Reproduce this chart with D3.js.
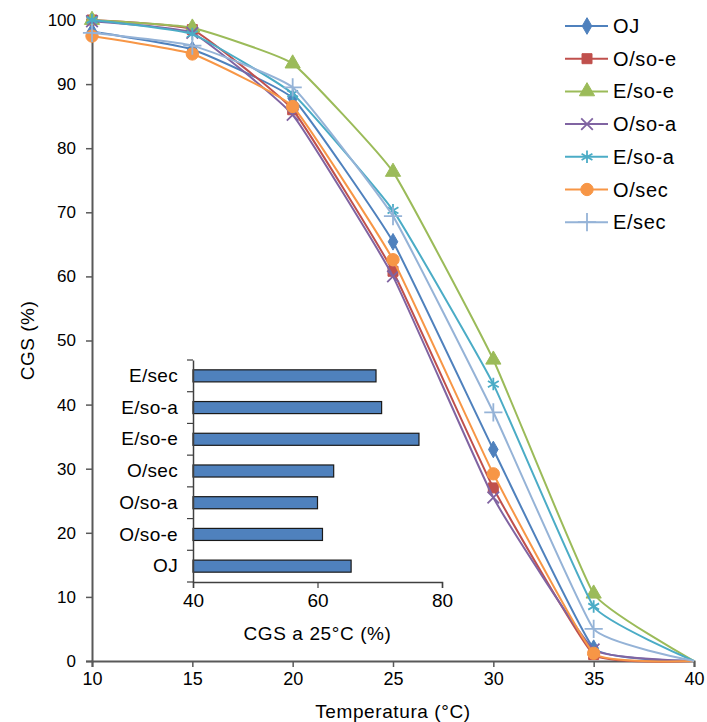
<!DOCTYPE html>
<html>
<head>
<meta charset="utf-8">
<script src="https://cdn.jsdelivr.net/npm/d3@7"></script>
<style>
body { margin: 0; background: #fff; }
text { font-family: "Liberation Sans", Arial, sans-serif; fill: #000; }
</style>
</head>
<body>
<svg width="707" height="722"></svg>
<script>
// data
const temps = [10, 15, 20, 25, 30, 35, 40];
const seriesNames = ['OJ', 'O/so-e', 'E/so-e', 'O/so-a', 'E/so-a', 'O/sec', 'E/sec'];
const ojValues   = [98.2, 95.4, 87.8, 65.4, 33.0, 2.0, 0];
const osoeValues = [100, 98.5, 86.0, 60.8, 27.0, 1.0, 0];
const esoeValues = [100, 98.8, 93.2, 76.3, 47.0, 10.5, 0];
const osoaValues = [99.8, 98.0, 85.2, 60.0, 25.5, 1.8, 0];
const esoaValues = [100, 97.8, 88.5, 70.3, 43.2, 8.5, 0];
const osecValues = [97.5, 94.7, 86.5, 62.6, 29.2, 1.2, 0];
const esecValues = [98.0, 96.0, 89.5, 69.4, 38.8, 5.0, 0];
const seriesColors = ['#4F81BD', '#C0504D', '#9BBB59', '#8064A2', '#4BACC6', '#F79646', '#95B3D7'];
const yTicks = [0, 10, 20, 30, 40, 50, 60, 70, 80, 90, 100];
const xTicks = [10, 15, 20, 25, 30, 35, 40];

// inset: CGS at 25 °C
const insetCategories = ['OJ', 'O/so-e', 'O/so-a', 'O/sec', 'E/so-e', 'E/so-a', 'E/sec'];
const insetTicks = [40, 60, 80];

const svg = d3.select('svg');
const allValues = [ojValues, osoeValues, esoeValues, osoaValues, esoaValues, osecValues, esecValues];
const series = seriesNames.map((name, i) => ({
	name: name,
	color: seriesColors[i],
	values: temps.map((t, j) => ({ t: t, v: allValues[i][j] }))
}));

const symbolTypes = [d3.symbolDiamond, d3.symbolSquare, d3.symbolTriangle, d3.symbolX, d3.symbolAsterisk, d3.symbolCircle, d3.symbolPlus];
const symbolSizes = [80, 100, 100, 90, 110, 120, 110];
const isStroke = [false, false, false, true, true, false, true];

const margin = { left: 92, right: 13, top: 20, bottom: 61 };
const xScale = d3.scaleLinear().domain([10, 40]).range([margin.left, 707 - margin.right]);
const yScale = d3.scaleLinear().domain([0, 100]).range([722 - margin.bottom, margin.top]);

// axes
const xAxisG = svg.append('g')
	.attr('transform', `translate(0, ${yScale(0)})`)
	.call(d3.axisBottom(xScale).tickValues(xTicks).tickSize(6).tickPadding(5));
const yAxisG = svg.append('g')
	.attr('transform', `translate(${xScale(10)}, 0)`)
	.call(d3.axisLeft(yScale).tickValues(yTicks).tickSize(6).tickPadding(10));

[xAxisG, yAxisG].forEach(g => {
	g.select('.domain').attr('stroke', '#595959').attr('stroke-width', 2);
	g.selectAll('.tick line').attr('stroke', '#595959').attr('stroke-width', 1.5);
	g.selectAll('.tick text').style('font-size', '17px').attr('fill', '#000');
});
xAxisG.selectAll('.tick text').style('font-size', '18px');

svg.append('text')
	.attr('x', (xScale(10) + xScale(40)) / 2)
	.attr('y', 718)
	.attr('text-anchor', 'middle')
	.style('font-size', '19px')
	.style('letter-spacing', '0.6px')
	.text('Temperatura (°C)');

svg.append('text')
	.attr('transform', `translate(34, ${yScale(50)}) rotate(-90)`)
	.attr('text-anchor', 'middle')
	.style('font-size', '19px')
	.style('letter-spacing', '0.5px')
	.text('CGS (%)');

// lines, lightly smoothed
const line = d3.line()
	.x(d => xScale(d.t))
	.y(d => yScale(d.v))
	.curve(d3.curveCardinal.tension(0.65));

series.forEach((s, i) => {
	const g = svg.append('g');
	g.append('path')
		.datum(s.values)
		.attr('fill', 'none')
		.attr('stroke', s.color)
		.attr('stroke-width', 2)
		.attr('d', line);
	g.selectAll('path.marker').data(s.values.slice(0, 6))
		.enter().append('path')
			.attr('class', 'marker')
			.attr('transform', d => `translate(${xScale(d.t)}, ${yScale(d.v)})`)
			.attr('d', d3.symbol().type(symbolTypes[i]).size(symbolSizes[i]))
			.attr('fill', isStroke[i] ? 'none' : s.color)
			.attr('stroke', s.color)
			.attr('stroke-width', isStroke[i] ? 1.8 : 1);
});

// legend
const legend = svg.append('g').attr('transform', 'translate(565, 26)');
series.forEach((s, i) => {
	const row = legend.append('g').attr('transform', `translate(0, ${i * 32.7})`);
	row.append('line')
		.attr('x1', 0).attr('x2', 43)
		.attr('stroke', s.color).attr('stroke-width', 2);
	row.append('path')
		.attr('transform', 'translate(22, 0)')
		.attr('d', d3.symbol().type(symbolTypes[i]).size(symbolSizes[i]))
		.attr('fill', isStroke[i] ? 'none' : s.color)
		.attr('stroke', s.color)
		.attr('stroke-width', isStroke[i] ? 1.8 : 1);
	row.append('text')
		.attr('x', 48).attr('y', 7)
		.style('font-size', '20px')
		.style('letter-spacing', '0.6px')
		.text(s.name);
});

// inset bar chart
const insetValue = name => allValues[seriesNames.indexOf(name)][temps.indexOf(25)];
const ix = d3.scaleLinear().domain([40, 80]).range([193, 442]);
const iy = d3.scaleBand().domain(insetCategories).range([582, 360]).paddingInner(0.62).paddingOuter(0.31);

svg.append('g').selectAll('rect').data(insetCategories)
	.enter().append('rect')
		.attr('x', ix(40))
		.attr('y', d => iy(d))
		.attr('width', d => ix(insetValue(d)) - ix(40))
		.attr('height', iy.bandwidth())
		.attr('fill', '#4F81BD')
		.attr('stroke', '#1a1a1a')
		.attr('stroke-width', 1.2);

const insetY = svg.append('g')
	.attr('transform', `translate(${ix(40)}, 0)`)
	.call(d3.axisLeft(iy).tickSize(0).tickPadding(15));
insetY.select('.domain').attr('stroke', '#404040').attr('stroke-width', 1.5);
insetY.selectAll('.tick text').style('font-size', '19px').style('letter-spacing', '0.3px');
// category boundary ticks
const bounds = d3.range(insetCategories.length + 1).map(i => 582 - i * (222 / insetCategories.length));
insetY.selectAll('line.bound').data(bounds)
	.enter().append('line')
		.attr('class', 'bound')
		.attr('x1', -6).attr('x2', 0)
		.attr('y1', d => d).attr('y2', d => d)
		.attr('stroke', '#404040').attr('stroke-width', 1.2);

const insetX = svg.append('g')
	.attr('transform', 'translate(0, 582)')
	.call(d3.axisBottom(ix).tickValues(insetTicks).tickSize(6).tickPadding(6));
insetX.select('.domain').attr('stroke', '#404040').attr('stroke-width', 1.5);
insetX.selectAll('.tick line').attr('stroke', '#404040').attr('stroke-width', 1.2);
insetX.selectAll('.tick text').style('font-size', '19px');

svg.append('text')
	.attr('x', ix(60))
	.attr('y', 640)
	.attr('text-anchor', 'middle')
	.style('font-size', '19px')
	.style('letter-spacing', '0.6px')
	.text('CGS a 25°C (%)');
</script>
</body>
</html>
